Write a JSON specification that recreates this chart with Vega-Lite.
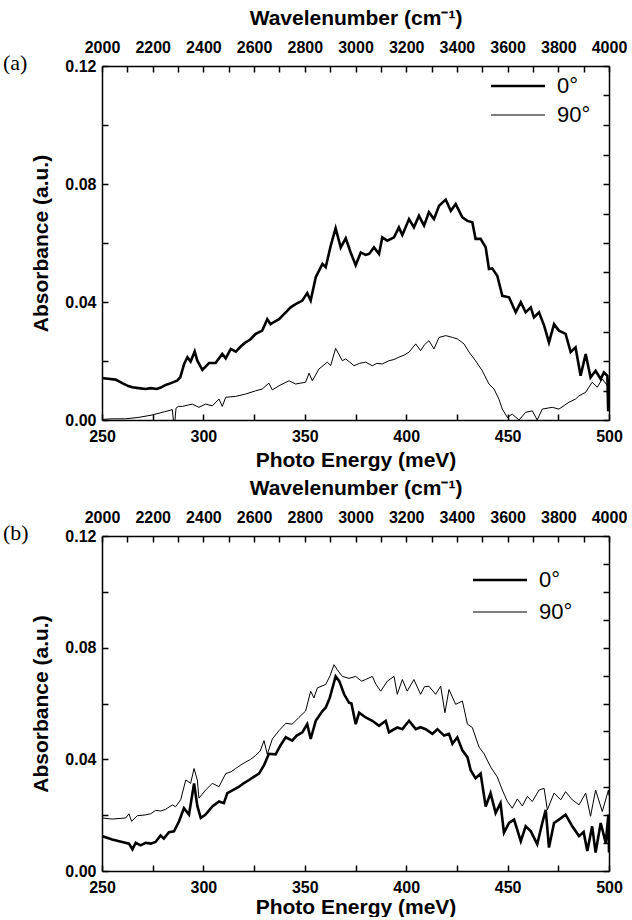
{
"$schema":"https://vega.github.io/schema/vega-lite/v6.json",
"background":"white",
"padding":{"left":3,"top":7,"right":0,"bottom":0},
"config":{
 "view":{"stroke":null},
 "axis":{"labelFont":"Liberation Sans","labelFontWeight":"bold","labelFontSize":16,"labelColor":"black","titleFont":"Liberation Sans","titleFontWeight":"bold","titleFontSize":21,"titleColor":"black","domainColor":"black","domainWidth":1.5,"tickColor":"black","tickWidth":1.5,"tickSize":-6,"grid":false,"labelOverlap":false,"labelFlush":false,"labelBound":false},
 "axisBottom":{"labelPadding":14,"titlePadding":5},
 "axisTop":{"labelPadding":17,"titlePadding":11},
 "axisLeft":{"labelPadding":12,"titlePadding":13},
 "legend":{"labelFont":"Liberation Sans","labelFontSize":22,"labelColor":"black","symbolType":"M-3,0H3","symbolSize":324,"symbolStrokeColor":"black","labelOffset":28,"title":null,"padding":0}
},
"datasets":{
"a":[
{"E":250,"A":0.0142,"s":"0°"},{"E":253,"A":0.0140,"s":"0°"},{"E":256.7,"A":0.0137,"s":"0°"},{"E":260,"A":0.0125,"s":"0°"},{"E":263,"A":0.0115,"s":"0°"},{"E":265,"A":0.0111,"s":"0°"},{"E":268,"A":0.0108,"s":"0°"},{"E":271.5,"A":0.0105,"s":"0°"},{"E":274,"A":0.0108,"s":"0°"},{"E":277,"A":0.0105,"s":"0°"},{"E":279,"A":0.0110,"s":"0°"},{"E":281.4,"A":0.0119,"s":"0°"},{"E":284,"A":0.0125,"s":"0°"},{"E":287,"A":0.0133,"s":"0°"},{"E":288.6,"A":0.0145,"s":"0°"},{"E":290.5,"A":0.0190,"s":"0°"},{"E":292.1,"A":0.0213,"s":"0°"},{"E":293.7,"A":0.0198,"s":"0°"},{"E":295.7,"A":0.0232,"s":"0°"},{"E":297,"A":0.0201,"s":"0°"},{"E":299.5,"A":0.0170,"s":"0°"},{"E":302.8,"A":0.0193,"s":"0°"},{"E":306,"A":0.0193,"s":"0°"},{"E":309.3,"A":0.0224,"s":"0°"},{"E":311,"A":0.0209,"s":"0°"},{"E":313.5,"A":0.0241,"s":"0°"},{"E":316,"A":0.0232,"s":"0°"},{"E":318.5,"A":0.0250,"s":"0°"},{"E":320.8,"A":0.0263,"s":"0°"},{"E":323,"A":0.0272,"s":"0°"},{"E":325.8,"A":0.0292,"s":"0°"},{"E":329,"A":0.0303,"s":"0°"},{"E":331.5,"A":0.0342,"s":"0°"},{"E":333.1,"A":0.0325,"s":"0°"},{"E":335,"A":0.0333,"s":"0°"},{"E":337.3,"A":0.0342,"s":"0°"},{"E":340.6,"A":0.0365,"s":"0°"},{"E":343,"A":0.0382,"s":"0°"},{"E":345.5,"A":0.0393,"s":"0°"},{"E":348.8,"A":0.0405,"s":"0°"},{"E":351.2,"A":0.0430,"s":"0°"},{"E":352.9,"A":0.0405,"s":"0°"},{"E":355.4,"A":0.0484,"s":"0°"},{"E":358.7,"A":0.0529,"s":"0°"},{"E":360.3,"A":0.0518,"s":"0°"},{"E":362.8,"A":0.0591,"s":"0°"},{"E":365.2,"A":0.0650,"s":"0°"},{"E":367.7,"A":0.0585,"s":"0°"},{"E":370.2,"A":0.0616,"s":"0°"},{"E":372.6,"A":0.0568,"s":"0°"},{"E":375.1,"A":0.0525,"s":"0°"},{"E":377.6,"A":0.0568,"s":"0°"},{"E":380,"A":0.0560,"s":"0°"},{"E":381.7,"A":0.0563,"s":"0°"},{"E":384.1,"A":0.0585,"s":"0°"},{"E":386.6,"A":0.0563,"s":"0°"},{"E":388.2,"A":0.0619,"s":"0°"},{"E":390.7,"A":0.0608,"s":"0°"},{"E":394,"A":0.0619,"s":"0°"},{"E":396.4,"A":0.0653,"s":"0°"},{"E":398.1,"A":0.0627,"s":"0°"},{"E":401.4,"A":0.0681,"s":"0°"},{"E":403.8,"A":0.0653,"s":"0°"},{"E":406.3,"A":0.0692,"s":"0°"},{"E":408.8,"A":0.0659,"s":"0°"},{"E":411.2,"A":0.0704,"s":"0°"},{"E":413.7,"A":0.0681,"s":"0°"},{"E":416.2,"A":0.0726,"s":"0°"},{"E":419.5,"A":0.0747,"s":"0°"},{"E":422,"A":0.0709,"s":"0°"},{"E":424.4,"A":0.0732,"s":"0°"},{"E":427.7,"A":0.0687,"s":"0°"},{"E":430.2,"A":0.0675,"s":"0°"},{"E":432.6,"A":0.0670,"s":"0°"},{"E":434.2,"A":0.0614,"s":"0°"},{"E":436.7,"A":0.0614,"s":"0°"},{"E":439.2,"A":0.0585,"s":"0°"},{"E":440.8,"A":0.0512,"s":"0°"},{"E":442.4,"A":0.0514,"s":"0°"},{"E":444.9,"A":0.0489,"s":"0°"},{"E":447.4,"A":0.0421,"s":"0°"},{"E":450.7,"A":0.0416,"s":"0°"},{"E":454,"A":0.0365,"s":"0°"},{"E":456.5,"A":0.0399,"s":"0°"},{"E":458.9,"A":0.0365,"s":"0°"},{"E":461.4,"A":0.0382,"s":"0°"},{"E":463,"A":0.0348,"s":"0°"},{"E":465.5,"A":0.0365,"s":"0°"},{"E":468,"A":0.0320,"s":"0°"},{"E":470.4,"A":0.0263,"s":"0°"},{"E":472.9,"A":0.0325,"s":"0°"},{"E":475.3,"A":0.0303,"s":"0°"},{"E":478.6,"A":0.0292,"s":"0°"},{"E":481.1,"A":0.0230,"s":"0°"},{"E":483.5,"A":0.0246,"s":"0°"},{"E":486,"A":0.0150,"s":"0°"},{"E":488.5,"A":0.0224,"s":"0°"},{"E":490.9,"A":0.0144,"s":"0°"},{"E":493.4,"A":0.0167,"s":"0°"},{"E":495.9,"A":0.0139,"s":"0°"},{"E":497.5,"A":0.0161,"s":"0°"},{"E":499.2,"A":0.0150,"s":"0°"},{"E":499.6,"A":0.0030,"s":"0°"},{"E":500,"A":0.0140,"s":"0°"},
{"E":250,"A":0.0002,"s":"90°"},{"E":255,"A":0.0004,"s":"90°"},{"E":261.7,"A":0.0004,"s":"90°"},{"E":268.2,"A":0.0009,"s":"90°"},{"E":274.8,"A":0.0017,"s":"90°"},{"E":280.8,"A":0.0028,"s":"90°"},{"E":284.7,"A":0.0035,"s":"90°"},{"E":285.6,"A":-0.003,"s":"90°"},{"E":286.5,"A":0.0040,"s":"90°"},{"E":287.6,"A":0.0046,"s":"90°"},{"E":289.6,"A":0.0046,"s":"90°"},{"E":292,"A":0.0050,"s":"90°"},{"E":294.5,"A":0.0054,"s":"90°"},{"E":297.8,"A":0.0043,"s":"90°"},{"E":301.1,"A":0.0054,"s":"90°"},{"E":304.4,"A":0.0048,"s":"90°"},{"E":307.7,"A":0.0071,"s":"90°"},{"E":309.3,"A":0.0046,"s":"90°"},{"E":311,"A":0.0077,"s":"90°"},{"E":315.9,"A":0.0080,"s":"90°"},{"E":320.8,"A":0.0088,"s":"90°"},{"E":325.8,"A":0.0099,"s":"90°"},{"E":329,"A":0.0105,"s":"90°"},{"E":332.3,"A":0.0125,"s":"90°"},{"E":334,"A":0.0102,"s":"90°"},{"E":337.3,"A":0.0116,"s":"90°"},{"E":342.2,"A":0.0133,"s":"90°"},{"E":345.5,"A":0.0122,"s":"90°"},{"E":350.4,"A":0.0128,"s":"90°"},{"E":352.1,"A":0.0159,"s":"90°"},{"E":353.7,"A":0.0133,"s":"90°"},{"E":357,"A":0.0173,"s":"90°"},{"E":361.1,"A":0.0196,"s":"90°"},{"E":362.8,"A":0.0185,"s":"90°"},{"E":365.2,"A":0.0243,"s":"90°"},{"E":368.5,"A":0.0201,"s":"90°"},{"E":370.2,"A":0.0207,"s":"90°"},{"E":374.3,"A":0.0184,"s":"90°"},{"E":377,"A":0.0192,"s":"90°"},{"E":380,"A":0.0196,"s":"90°"},{"E":383.3,"A":0.0184,"s":"90°"},{"E":385.5,"A":0.0192,"s":"90°"},{"E":388.2,"A":0.0190,"s":"90°"},{"E":391.5,"A":0.0201,"s":"90°"},{"E":394,"A":0.0205,"s":"90°"},{"E":396.4,"A":0.0213,"s":"90°"},{"E":399,"A":0.0220,"s":"90°"},{"E":401.4,"A":0.0230,"s":"90°"},{"E":404.7,"A":0.0258,"s":"90°"},{"E":407.1,"A":0.0235,"s":"90°"},{"E":409,"A":0.0255,"s":"90°"},{"E":411.2,"A":0.0269,"s":"90°"},{"E":413.7,"A":0.0241,"s":"90°"},{"E":416.2,"A":0.0280,"s":"90°"},{"E":419.5,"A":0.0286,"s":"90°"},{"E":422.8,"A":0.0280,"s":"90°"},{"E":425.2,"A":0.0275,"s":"90°"},{"E":428.5,"A":0.0258,"s":"90°"},{"E":431,"A":0.0230,"s":"90°"},{"E":434.2,"A":0.0201,"s":"90°"},{"E":437.5,"A":0.0167,"s":"90°"},{"E":440.8,"A":0.0122,"s":"90°"},{"E":443.3,"A":0.0105,"s":"90°"},{"E":445.7,"A":0.0071,"s":"90°"},{"E":447.4,"A":0.0037,"s":"90°"},{"E":449.9,"A":0.0009,"s":"90°"},{"E":452.3,"A":0.0020,"s":"90°"},{"E":455.6,"A":0.0000,"s":"90°"},{"E":458.9,"A":0.0026,"s":"90°"},{"E":462.2,"A":0.0031,"s":"90°"},{"E":464.6,"A":0.0000,"s":"90°"},{"E":467.1,"A":0.0037,"s":"90°"},{"E":472,"A":0.0043,"s":"90°"},{"E":475.3,"A":0.0037,"s":"90°"},{"E":480.2,"A":0.0060,"s":"90°"},{"E":483.5,"A":0.0071,"s":"90°"},{"E":485.2,"A":0.0082,"s":"90°"},{"E":488.5,"A":0.0094,"s":"90°"},{"E":491.7,"A":0.0128,"s":"90°"},{"E":494.2,"A":0.0111,"s":"90°"},{"E":496.7,"A":0.0139,"s":"90°"},{"E":499.2,"A":0.0116,"s":"90°"},{"E":500,"A":0.0120,"s":"90°"}
],
"b":[
{"E":250,"A":0.0125,"s":"0°"},{"E":255,"A":0.0113,"s":"0°"},{"E":260,"A":0.0104,"s":"0°"},{"E":263.3,"A":0.0098,"s":"0°"},{"E":265,"A":0.0078,"s":"0°"},{"E":266.6,"A":0.0101,"s":"0°"},{"E":269,"A":0.0092,"s":"0°"},{"E":271.5,"A":0.0101,"s":"0°"},{"E":274,"A":0.0098,"s":"0°"},{"E":276.4,"A":0.0104,"s":"0°"},{"E":278.9,"A":0.0127,"s":"0°"},{"E":280.5,"A":0.0116,"s":"0°"},{"E":283,"A":0.0139,"s":"0°"},{"E":285.5,"A":0.0142,"s":"0°"},{"E":288,"A":0.0178,"s":"0°"},{"E":290.4,"A":0.0225,"s":"0°"},{"E":292.9,"A":0.0202,"s":"0°"},{"E":295.4,"A":0.0314,"s":"0°"},{"E":297,"A":0.0233,"s":"0°"},{"E":298.7,"A":0.0190,"s":"0°"},{"E":301.1,"A":0.0202,"s":"0°"},{"E":304.4,"A":0.0231,"s":"0°"},{"E":307.7,"A":0.0249,"s":"0°"},{"E":310.1,"A":0.0243,"s":"0°"},{"E":311.8,"A":0.0279,"s":"0°"},{"E":314.5,"A":0.0290,"s":"0°"},{"E":317.6,"A":0.0302,"s":"0°"},{"E":320,"A":0.0315,"s":"0°"},{"E":322.5,"A":0.0326,"s":"0°"},{"E":325,"A":0.0338,"s":"0°"},{"E":327.4,"A":0.0349,"s":"0°"},{"E":329.9,"A":0.0379,"s":"0°"},{"E":332.3,"A":0.0420,"s":"0°"},{"E":335.6,"A":0.0418,"s":"0°"},{"E":338,"A":0.0450,"s":"0°"},{"E":340.6,"A":0.0479,"s":"0°"},{"E":343.8,"A":0.0467,"s":"0°"},{"E":346,"A":0.0485,"s":"0°"},{"E":348.8,"A":0.0497,"s":"0°"},{"E":351.2,"A":0.0526,"s":"0°"},{"E":352.9,"A":0.0473,"s":"0°"},{"E":355.4,"A":0.0538,"s":"0°"},{"E":358.7,"A":0.0573,"s":"0°"},{"E":360.3,"A":0.0585,"s":"0°"},{"E":362.3,"A":0.0620,"s":"0°"},{"E":365.2,"A":0.0697,"s":"0°"},{"E":367,"A":0.0680,"s":"0°"},{"E":369.4,"A":0.0633,"s":"0°"},{"E":371.8,"A":0.0603,"s":"0°"},{"E":373,"A":0.0600,"s":"0°"},{"E":375.1,"A":0.0526,"s":"0°"},{"E":376.8,"A":0.0567,"s":"0°"},{"E":380,"A":0.0550,"s":"0°"},{"E":383.3,"A":0.0538,"s":"0°"},{"E":386.6,"A":0.0520,"s":"0°"},{"E":389.9,"A":0.0538,"s":"0°"},{"E":391.5,"A":0.0497,"s":"0°"},{"E":395.6,"A":0.0514,"s":"0°"},{"E":398.1,"A":0.0508,"s":"0°"},{"E":401.4,"A":0.0538,"s":"0°"},{"E":404.7,"A":0.0508,"s":"0°"},{"E":407,"A":0.0515,"s":"0°"},{"E":409.6,"A":0.0508,"s":"0°"},{"E":412.9,"A":0.0491,"s":"0°"},{"E":415.4,"A":0.0508,"s":"0°"},{"E":418.7,"A":0.0485,"s":"0°"},{"E":421.1,"A":0.0491,"s":"0°"},{"E":422.8,"A":0.0456,"s":"0°"},{"E":425.2,"A":0.0479,"s":"0°"},{"E":427.7,"A":0.0432,"s":"0°"},{"E":430.2,"A":0.0408,"s":"0°"},{"E":431.8,"A":0.0361,"s":"0°"},{"E":434.2,"A":0.0332,"s":"0°"},{"E":436.7,"A":0.0349,"s":"0°"},{"E":439.2,"A":0.0231,"s":"0°"},{"E":441.6,"A":0.0279,"s":"0°"},{"E":444.1,"A":0.0208,"s":"0°"},{"E":446.5,"A":0.0243,"s":"0°"},{"E":448.2,"A":0.0137,"s":"0°"},{"E":450.7,"A":0.0172,"s":"0°"},{"E":453.2,"A":0.0184,"s":"0°"},{"E":456.5,"A":0.0107,"s":"0°"},{"E":458.9,"A":0.0160,"s":"0°"},{"E":461.4,"A":0.0143,"s":"0°"},{"E":464.6,"A":0.0096,"s":"0°"},{"E":467.1,"A":0.0172,"s":"0°"},{"E":468.8,"A":0.0219,"s":"0°"},{"E":470.4,"A":0.0084,"s":"0°"},{"E":472.9,"A":0.0172,"s":"0°"},{"E":475.3,"A":0.0184,"s":"0°"},{"E":478.6,"A":0.0202,"s":"0°"},{"E":481.9,"A":0.0160,"s":"0°"},{"E":485.2,"A":0.0125,"s":"0°"},{"E":487.5,"A":0.0140,"s":"0°"},{"E":489.3,"A":0.0072,"s":"0°"},{"E":491.7,"A":0.0160,"s":"0°"},{"E":493.4,"A":0.0066,"s":"0°"},{"E":495.9,"A":0.0172,"s":"0°"},{"E":498.4,"A":0.0101,"s":"0°"},{"E":499.7,"A":0.0202,"s":"0°"},{"E":500,"A":0.0066,"s":"0°"},
{"E":250,"A":0.0190,"s":"90°"},{"E":255,"A":0.0186,"s":"90°"},{"E":261.7,"A":0.0190,"s":"90°"},{"E":263.3,"A":0.0205,"s":"90°"},{"E":264.6,"A":0.0178,"s":"90°"},{"E":267.4,"A":0.0198,"s":"90°"},{"E":271.5,"A":0.0201,"s":"90°"},{"E":274,"A":0.0205,"s":"90°"},{"E":276.4,"A":0.0217,"s":"90°"},{"E":279,"A":0.0215,"s":"90°"},{"E":281.4,"A":0.0221,"s":"90°"},{"E":284.7,"A":0.0237,"s":"90°"},{"E":286.3,"A":0.0230,"s":"90°"},{"E":288.8,"A":0.0255,"s":"90°"},{"E":291.3,"A":0.0326,"s":"90°"},{"E":293.7,"A":0.0314,"s":"90°"},{"E":295.4,"A":0.0367,"s":"90°"},{"E":297,"A":0.0326,"s":"90°"},{"E":297.8,"A":0.0261,"s":"90°"},{"E":301.1,"A":0.0290,"s":"90°"},{"E":304.4,"A":0.0314,"s":"90°"},{"E":307.7,"A":0.0302,"s":"90°"},{"E":311,"A":0.0349,"s":"90°"},{"E":313.5,"A":0.0355,"s":"90°"},{"E":315.9,"A":0.0367,"s":"90°"},{"E":318.5,"A":0.0380,"s":"90°"},{"E":320.8,"A":0.0390,"s":"90°"},{"E":323.3,"A":0.0400,"s":"90°"},{"E":325.8,"A":0.0414,"s":"90°"},{"E":328,"A":0.0430,"s":"90°"},{"E":329.9,"A":0.0467,"s":"90°"},{"E":331.5,"A":0.0418,"s":"90°"},{"E":334,"A":0.0473,"s":"90°"},{"E":337.3,"A":0.0503,"s":"90°"},{"E":340.6,"A":0.0529,"s":"90°"},{"E":343.8,"A":0.0526,"s":"90°"},{"E":347.1,"A":0.0550,"s":"90°"},{"E":350.4,"A":0.0573,"s":"90°"},{"E":352.9,"A":0.0644,"s":"90°"},{"E":354.5,"A":0.0620,"s":"90°"},{"E":356.2,"A":0.0656,"s":"90°"},{"E":360.3,"A":0.0668,"s":"90°"},{"E":362.5,"A":0.0700,"s":"90°"},{"E":364.4,"A":0.0739,"s":"90°"},{"E":366,"A":0.0721,"s":"90°"},{"E":368.5,"A":0.0697,"s":"90°"},{"E":371.8,"A":0.0690,"s":"90°"},{"E":375.1,"A":0.0697,"s":"90°"},{"E":378,"A":0.0680,"s":"90°"},{"E":380,"A":0.0686,"s":"90°"},{"E":383.3,"A":0.0697,"s":"90°"},{"E":385,"A":0.0670,"s":"90°"},{"E":387.4,"A":0.0644,"s":"90°"},{"E":390.7,"A":0.0680,"s":"90°"},{"E":394,"A":0.0697,"s":"90°"},{"E":395.6,"A":0.0633,"s":"90°"},{"E":398.1,"A":0.0686,"s":"90°"},{"E":400.5,"A":0.0644,"s":"90°"},{"E":403.8,"A":0.0686,"s":"90°"},{"E":407.1,"A":0.0633,"s":"90°"},{"E":409,"A":0.0660,"s":"90°"},{"E":411.2,"A":0.0662,"s":"90°"},{"E":414.5,"A":0.0633,"s":"90°"},{"E":417,"A":0.0662,"s":"90°"},{"E":419.1,"A":0.0567,"s":"90°"},{"E":421.1,"A":0.0650,"s":"90°"},{"E":424.4,"A":0.0597,"s":"90°"},{"E":427.7,"A":0.0609,"s":"90°"},{"E":430.2,"A":0.0526,"s":"90°"},{"E":432.6,"A":0.0514,"s":"90°"},{"E":435.9,"A":0.0444,"s":"90°"},{"E":438.4,"A":0.0420,"s":"90°"},{"E":441.6,"A":0.0373,"s":"90°"},{"E":444.9,"A":0.0337,"s":"90°"},{"E":447.4,"A":0.0290,"s":"90°"},{"E":449.9,"A":0.0249,"s":"90°"},{"E":452.3,"A":0.0225,"s":"90°"},{"E":454.8,"A":0.0258,"s":"90°"},{"E":457.3,"A":0.0233,"s":"90°"},{"E":459.7,"A":0.0267,"s":"90°"},{"E":462.2,"A":0.0249,"s":"90°"},{"E":465.5,"A":0.0290,"s":"90°"},{"E":468,"A":0.0296,"s":"90°"},{"E":469.6,"A":0.0219,"s":"90°"},{"E":472.9,"A":0.0279,"s":"90°"},{"E":476.2,"A":0.0255,"s":"90°"},{"E":478.6,"A":0.0284,"s":"90°"},{"E":481.9,"A":0.0255,"s":"90°"},{"E":485.2,"A":0.0237,"s":"90°"},{"E":488.5,"A":0.0279,"s":"90°"},{"E":490.9,"A":0.0196,"s":"90°"},{"E":493.4,"A":0.0290,"s":"90°"},{"E":496.7,"A":0.0213,"s":"90°"},{"E":499.7,"A":0.0290,"s":"90°"},{"E":500,"A":0.0270,"s":"90°"}
],
"frame":[{"wn":2000,"v":0},{"wn":4000,"v":0.12}]
},
"resolve":{"scale":{"strokeWidth":"independent"},"legend":{"strokeWidth":"independent"}},
"spacing":7,
"vconcat":[
{
 "width":507,"height":354,
 "title":{"text":"(a)","font":"Liberation Serif","fontSize":22,"fontWeight":"normal","color":"black","anchor":"start","frame":"group","dx":-99,"dy":72},
 "layer":[
  {"data":{"name":"a"},"mark":{"type":"line","color":"black","clip":true,"interpolate":"linear"},
   "encoding":{
    "x":{"field":"E","type":"quantitative","scale":{"domain":[250,500],"nice":false,"zero":false},"axis":{"orient":"bottom","title":"Photo Energy (meV)","values":[250,275,300,325,350,375,400,425,450,475,500],"labelExpr":"datum.value % 50 === 0 ? datum.label : ''","format":"d"}},
    "y":{"field":"A","type":"quantitative","scale":{"domain":[0,0.12],"nice":false},"axis":{"orient":"left","title":"Absorbance (a.u.)","values":[0,0.02,0.04,0.06,0.08,0.1,0.12],"labelExpr":"round(datum.value*100) % 4 === 0 ? format(datum.value, '.2f') : ''"}},
    "strokeWidth":{"field":"s","type":"ordinal","scale":{"domain":["0°","90°"],"range":[2.6,1]},"legend":{"orient":"none","legendX":405,"legendY":9,"rowPadding":7}},
    "detail":{"field":"s"}
   }},
  {"data":{"name":"frame"},"mark":{"type":"point","opacity":0},
   "encoding":{
    "x":{"field":"wn","type":"quantitative","scale":{"domain":[2000,4000],"nice":false,"zero":false},"axis":{"orient":"top","title":"Wavelenumber (cm⁻¹)","values":[2000,2100,2200,2300,2400,2500,2600,2700,2800,2900,3000,3100,3200,3300,3400,3500,3600,3700,3800,3900,4000],"labelExpr":"datum.value % 200 === 0 ? datum.label : ''","format":"d"}},
    "y":{"field":"v","type":"quantitative","scale":{"domain":[0,0.12],"nice":false},"axis":{"orient":"right","title":null,"labels":false,"values":[0,0.01,0.02,0.03,0.04,0.05,0.06,0.07,0.08,0.09,0.1,0.11,0.12]}}
   }}
 ],
 "resolve":{"scale":{"x":"independent","y":"independent"}}
},
{
 "width":507,"height":335,
 "title":{"text":"(b)","font":"Liberation Serif","fontSize":22,"fontWeight":"normal","color":"black","anchor":"start","frame":"group","dx":-99,"dy":72},
 "layer":[
  {"data":{"name":"b"},"mark":{"type":"line","color":"black","clip":true,"interpolate":"linear"},
   "encoding":{
    "x":{"field":"E","type":"quantitative","scale":{"domain":[250,500],"nice":false,"zero":false},"axis":{"orient":"bottom","title":"Photo Energy (meV)","titlePadding":1,"values":[250,275,300,325,350,375,400,425,450,475,500],"labelExpr":"datum.value % 50 === 0 ? datum.label : ''","format":"d"}},
    "y":{"field":"A","type":"quantitative","scale":{"domain":[0,0.12],"nice":false},"axis":{"orient":"left","title":"Absorbance (a.u.)","values":[0,0.02,0.04,0.06,0.08,0.1,0.12],"labelExpr":"round(datum.value*100) % 4 === 0 ? format(datum.value, '.2f') : ''"}},
    "strokeWidth":{"field":"s","type":"ordinal","scale":{"domain":["0°","90°"],"range":[2.6,1]},"legend":{"orient":"none","legendX":387,"legendY":33,"rowPadding":10}},
    "detail":{"field":"s"}
   }},
  {"data":{"name":"frame"},"mark":{"type":"point","opacity":0},
   "encoding":{
    "x":{"field":"wn","type":"quantitative","scale":{"domain":[2000,4000],"nice":false,"zero":false},"axis":{"orient":"top","title":"Wavelenumber (cm⁻¹)","values":[2000,2100,2200,2300,2400,2500,2600,2700,2800,2900,3000,3100,3200,3300,3400,3500,3600,3700,3800,3900,4000],"labelExpr":"datum.value % 200 === 0 ? datum.label : ''","format":"d"}},
    "y":{"field":"v","type":"quantitative","scale":{"domain":[0,0.12],"nice":false},"axis":{"orient":"right","title":null,"labels":false,"values":[0,0.01,0.02,0.03,0.04,0.05,0.06,0.07,0.08,0.09,0.1,0.11,0.12]}}
   }}
 ],
 "resolve":{"scale":{"x":"independent","y":"independent"}}
}
]
}
